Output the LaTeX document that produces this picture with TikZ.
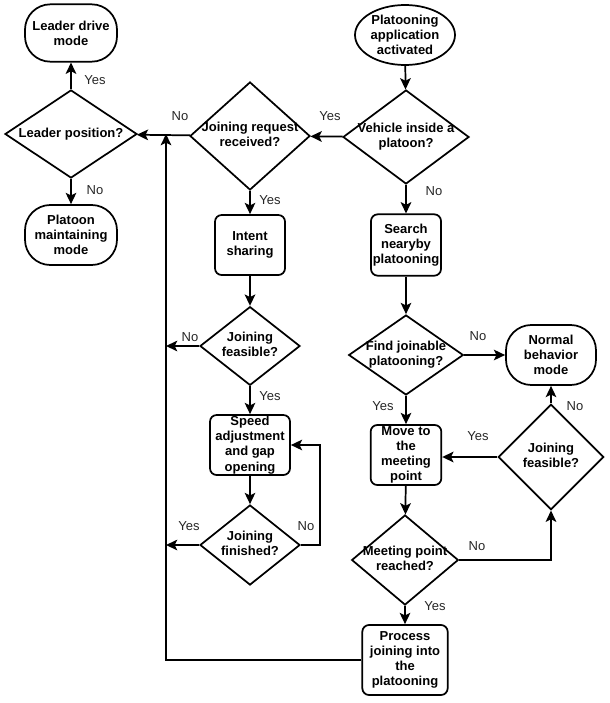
\documentclass[tikz,border=0pt]{standalone}
\usepackage{fontspec}
\setmainfont{Liberation Sans}
\usetikzlibrary{shapes.geometric,arrows.meta}
\newcommand{\dtext}[1]{\raisebox{-2.5pt}[0pt][0pt]{\makebox[0pt]{\begin{tabular}{@{}c@{}}#1\end{tabular}}}}
\tikzset{
  every node/.style={font=\fontsize{9.75}{11.4}\selectfont},
  base/.style={draw=black, line width=1.3pt, fill=white, inner sep=0pt, align=center, font=\fontsize{9.75}{11.4}\selectfont\bfseries},
  term/.style={base, rectangle, rounded corners=19pt},
  procbox/.style={base, rectangle, rounded corners=5pt},
  oval/.style={base, ellipse},
  dec/.style={base, diamond},
  conn/.style={line width=1.3pt, -{Stealth[length=8.5pt,width=8pt,inset=2pt]}},
  lab/.style={font=\fontsize{9.75}{11.4}\selectfont, text=black!85, inner sep=0pt},
}
\begin{document}
\begin{tikzpicture}[x=0.75pt,y=-0.75pt]
\useasboundingbox (0,0) rectangle (610,703);
% nodes
\node[term, minimum width=69pt, minimum height=43pt] (ldm) at (71,33) {Leader drive\\mode};
\node[dec, minimum width=99pt, minimum height=66pt] (lp) at (71,134) {\dtext{Leader position?}};
\node[term, minimum width=69pt, minimum height=45pt] (pmm) at (71,235) {Platoon\\maintaining\\mode};
\node[dec, minimum width=90pt, minimum height=81pt] (jr) at (250,136) {\dtext{Joining request\\received?}};
\node[oval, minimum width=75pt, minimum height=45pt] (app) at (405,35) {Platooning\\application\\activated};
\node[dec, minimum width=94.5pt, minimum height=70.5pt] (veh) at (406,137) {\dtext{Vehicle inside a\\platoon?}};
\node[procbox, minimum width=52.5pt, minimum height=46pt] (search) at (406,245) {Search\\nearyby\\platooning};
\node[procbox, minimum width=52.5pt, minimum height=45pt] (intent) at (250,245) {Intent\\sharing};
\node[dec, minimum width=75pt, minimum height=59pt] (jfl) at (250,346) {\dtext{Joining\\feasible?}};
\node[procbox, minimum width=60pt, minimum height=45pt] (speed) at (250,445) {Speed\\adjustment\\and gap\\opening};
\node[dec, minimum width=75pt, minimum height=60pt] (jfin) at (250,545) {\dtext{Joining\\finished?}};
\node[dec, minimum width=86pt, minimum height=60pt] (find) at (406,355) {\dtext{Find joinable\\platooning?}};
\node[term, minimum width=67.5pt, minimum height=45pt] (normal) at (551,355) {Normal\\behavior\\mode};
\node[procbox, minimum width=53pt, minimum height=45pt] (move) at (406,455) {Move to\\the\\meeting\\point};
\node[dec, minimum width=79pt, minimum height=79pt] (jfr) at (551,457) {\dtext{Joining\\feasible?}};
\node[dec, minimum width=80pt, minimum height=67.5pt] (meet) at (405,560) {\dtext{Meeting point\\reached?}};
\node[procbox, minimum width=64pt, minimum height=52.5pt] (proc) at (405,660) {Process\\joining into\\the\\platooning};
\coordinate (bustop) at (166,134);
\coordinate (busjf) at (166,346);
\coordinate (busfin) at (166,545);
\coordinate (loop) at (320,545);
% connectors
\draw[conn] (app) -- (veh);
\draw[conn] (veh) -- (jr);
\draw[conn] (veh) -- (search);
\draw[conn] (search) -- (find);
\draw[conn] (find) -- (normal);
\draw[conn] (find) -- (move);
\draw[conn] (move) -- (meet);
\draw[conn] (meet.east) -| (jfr.south);
\draw[conn] (jfr.west) -- (jfr.west -| move.east);
\draw[conn] (jfr) -- (normal);
\draw[conn] (meet) -- (proc);
\draw[conn] (proc.west) -| (bustop);
\draw[conn] (jr) -- (lp);
\draw[conn] (lp) -- (ldm);
\draw[conn] (lp) -- (pmm);
\draw[conn] (jr) -- (intent);
\draw[conn] (intent) -- (jfl);
\draw[conn] (jfl.west) -- (busjf);
\draw[conn] (jfl) -- (speed);
\draw[conn] (speed) -- (jfin);
\draw[conn] (jfin.west) -- (busfin);
\draw[conn] (jfin.east) -- (loop) |- (speed.east);
% labels
\node[lab] (l1) at (95,80) {Yes};
\node[lab] (l2) at (95,190) {No};
\node[lab] (l3) at (180,116) {No};
\node[lab] (l4) at (330,116) {Yes};
\node[lab] (l5) at (270,200) {Yes};
\node[lab] (l6) at (434,191) {No};
\node[lab] (l7) at (190,337) {No};
\node[lab] (l8) at (270,396) {Yes};
\node[lab] (l9) at (189,526) {Yes};
\node[lab] (l10) at (306,526) {No};
\node[lab] (l11) at (478,336) {No};
\node[lab] (l12) at (383,406) {Yes};
\node[lab] (l13) at (478,436) {Yes};
\node[lab] (l14) at (575,406) {No};
\node[lab] (l15) at (477,546) {No};
\node[lab] (l16) at (435,606) {Yes};
\end{tikzpicture}
\end{document}
